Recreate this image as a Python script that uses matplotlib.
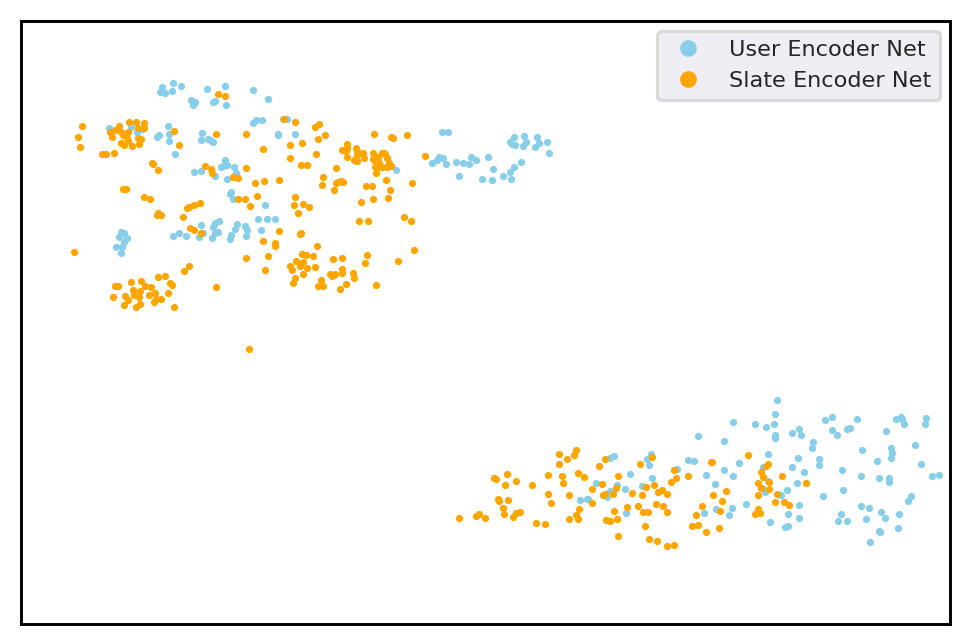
import matplotlib
matplotlib.use("Agg")
import matplotlib.pyplot as plt
from matplotlib.lines import Line2D

series_names = ["User Encoder Net", "Slate Encoder Net"]

user_points = [
(162,87),(173,83),(160,92),(165,93),(172,91),(181,86),(207,89),(225,86),(253,90),(268,99),(191,100),(195,102),(193,105),(213,102),(215,101),(226,105),
(253,123),(256,120),(262,120),(283,119),(287,119),(278,134),(278,135),(295,134),(109,128),(137,132),(142,129),(131,127),
(168,126),(159,135),(157,137),(169,134),(169,141),(175,154),(202,133),(201,140),(208,139),(210,140),(213,142),
(225,160),(221,167),(223,166),(227,165),(234,167),(236,173),(215,176),(194,172),(201,171),(227,179),(231,192),(230,194),(233,199),
(121,232),(124,233),(119,237),(127,238),(124,242),(116,247),(122,247),(121,253),
(173,236),(179,233),(186,236),(201,225),(199,237),(203,233),(213,227),(215,223),(219,221),(218,232),(215,233),(212,238),
(237,224),(235,229),(245,226),(247,230),(246,236),(231,235),(230,239),(258,219),(267,219),(275,219),(261,230),(265,205),
(396,170),(442,132),(448,132),(432,163),(437,160),(439,157),(443,158),(446,164),(456,162),(463,163),(469,164),(471,157),(476,160),(488,157),
(459,176),(482,179),(492,180),(493,169),(503,176),(511,179),(510,172),(514,167),(521,162),
(514,137),(510,142),(512,144),(515,145),(524,136),(523,146),(526,142),(537,137),(539,143),(535,147),(547,142),(549,153),
(698,436),(677,469),(688,460),(694,461),(651,454),(647,459),(649,465),(630,474),(652,478),(642,486),(625,489),(617,485),(610,491),(607,497),(596,483),(588,499),(587,499),(580,500),(610,458),(614,456),(626,513),
(777,400),(775,414),(774,424),(766,427),(755,424),(733,422),(724,441),(775,435),(775,438),(792,433),(799,429),(801,435),(813,442),(812,448),(768,454),(798,458),(792,467),(804,472),(797,483),(787,490),(819,459),(819,465),
(825,420),(832,417),(832,430),(837,435),(847,429),(850,428),(857,419),(886,431),(862,450),(877,461),(891,448),(892,453),(891,458),(842,470),(861,476),(879,478),(889,478),(889,482),(843,490),(823,496),
(915,445),(921,464),(932,476),(939,475),(911,496),(908,501),(896,419),(901,417),(902,419),(904,424),(926,418),(925,424),
(861,506),(869,508),(881,512),(885,518),(899,514),(898,528),(866,519),(841,514),(838,521),(847,521),(879,531),(880,532),(870,542),
(799,505),(788,514),(799,518),(770,522),(785,527),(788,526),(746,504),(732,508),(729,515),(716,509),(704,513),
(706,475),(724,470),(739,463),(733,476),(715,484),(763,467),(768,481),(762,488),(765,492),(781,495),
]

slate_points = [
(82,126),(78,137),(80,147),(102,154),(106,154),(114,153),(129,122),(136,122),(144,123),(144,128),(138,128),(119,126),(115,130),(110,132),(112,137),(121,132),(123,135),(128,132),(127,138),(121,143),(124,145),(128,141),(132,146),(138,138),(141,139),(139,144),
(174,131),(179,145),(218,94),(225,96),(216,134),(246,134),(284,119),(295,122),(290,145),(302,143),(263,149),(290,158),(301,165),(307,165),(152,163),(153,164),(158,170),(205,166),(211,169),(212,173),(246,168),(233,177),(238,178),(255,183),(264,181),(279,180),(257,196),(295,197),(238,199),(245,199),(123,189),(126,189),(144,197),(150,199),
(74,252),(158,213),(161,215),(157,215),(187,208),(189,207),(194,205),(200,203),(183,217),(190,228),(194,230),(201,233),(250,206),(294,205),(303,204),(298,213),(309,207),(279,231),(301,233),(300,234),(263,241),(275,243),(275,246),(268,256),(246,258),(265,270),
(302,254),(306,255),(296,261),(303,262),(290,266),(292,270),(300,266),(307,268),(303,274),(295,278),(293,283),(189,266),(184,271),(216,287),
(158,277),(165,276),(131,282),(141,281),(115,286),(118,286),(145,286),(151,287),(170,283),(172,285),(133,290),(140,291),(113,297),(125,296),(128,300),(134,295),(139,297),(149,295),(155,293),(168,293),(156,299),(161,299),(154,302),(124,305),(140,304),(136,307),(174,307),
(315,127),(319,124),(325,135),(318,139),(316,154),(336,168),(323,177),(322,185),(336,183),(338,182),(341,181),(343,182),(334,190),(374,134),(391,137),(393,138),(407,135),(425,156),
(347,144),(347,148),(342,150),(346,151),(347,157),(356,148),(357,151),(357,155),(354,160),(357,161),(363,153),(364,158),
(373,153),(373,159),(375,161),(378,157),(382,153),(385,154),(387,158),(389,163),(391,166),(387,167),(382,167),(378,167),(375,167),(376,173),(379,163),(384,153),
(386,180),(366,186),(372,186),(390,190),(412,183),(361,202),(373,199),(388,198),(359,221),(368,221),(404,217),(411,221),(317,246),(414,250),(313,256),(333,259),(342,258),(367,255),(365,263),(398,261),(315,267),
(321,280),(318,286),(323,286),(330,274),(332,276),(335,274),(342,269),(342,273),(353,273),(354,278),(346,284),(340,289),(376,285),(249,349),
(459,518),(476,516),(479,514),(485,518),(494,478),(496,479),(507,474),(516,481),(505,485),(498,499),(499,501),(508,500),(503,508),(504,514),(513,517),(516,513),(520,512),(532,485),(536,523),(545,524),(548,475),(548,494),(551,503),
(559,454),(559,464),(567,459),(574,455),(576,450),(562,476),(563,483),(569,495),(578,473),(584,477),(579,509),(576,515),(578,519),(569,519),(592,489),(592,503),(599,466),(605,459),(602,484),(603,495),(605,494),(613,494),(616,488),(618,476),(614,511),(606,520),(610,521),(617,519),(618,536),
(627,507),(632,493),(638,506),(642,495),(646,487),(640,464),(652,457),(654,485),(658,492),(662,490),(667,494),(656,504),(663,506),(667,512),(643,512),(648,512),(645,526),(649,539),(657,541),(667,546),(674,545),(671,482),(676,478),(674,470),(688,476),(696,515),(692,526),(698,525),(702,506),
(711,462),(712,462),(748,455),(766,466),(768,464),(761,472),(763,477),(758,483),(769,482),(782,476),(806,483),(761,488),(769,489),(726,491),(713,495),(722,501),(758,495),(777,494),(784,502),(775,502),(789,505),(720,511),(758,509),(755,514),(760,513),(719,528),(706,532),
]

colors = ["skyblue", "orange"]

W, H = 969, 644
dpi = 150
fig = plt.figure(figsize=(W / dpi, H / dpi), dpi=dpi, facecolor="white")
ax = fig.add_axes([21 / W, 1 - 624 / H, (950 - 21) / W, (624 - 21) / H])
ax.set_xlim(21, 950)
ax.set_ylim(624, 21)
ax.set_xticks([])
ax.set_yticks([])
for s in ax.spines.values():
    s.set_linewidth(1.4)
    s.set_color("black")

for pts, col in zip([user_points, slate_points], colors):
    xs, ys = zip(*pts)
    ax.scatter(xs, ys, s=12, c=col, linewidths=0, zorder=3)

handles = [Line2D([], [], ls="", marker="o", ms=8, color=c, mew=0) for c in colors]
leg = ax.legend(handles, series_names, loc="upper right", fontsize=10.75, frameon=True,
                facecolor="#EAEAF2", edgecolor="lightgray", framealpha=0.8, labelcolor="0.15",
                bbox_to_anchor=(1.0, 1.0), borderaxespad=0.45)
leg.get_frame().set_linewidth(1.5)
fig.savefig("out.png", dpi=dpi)
